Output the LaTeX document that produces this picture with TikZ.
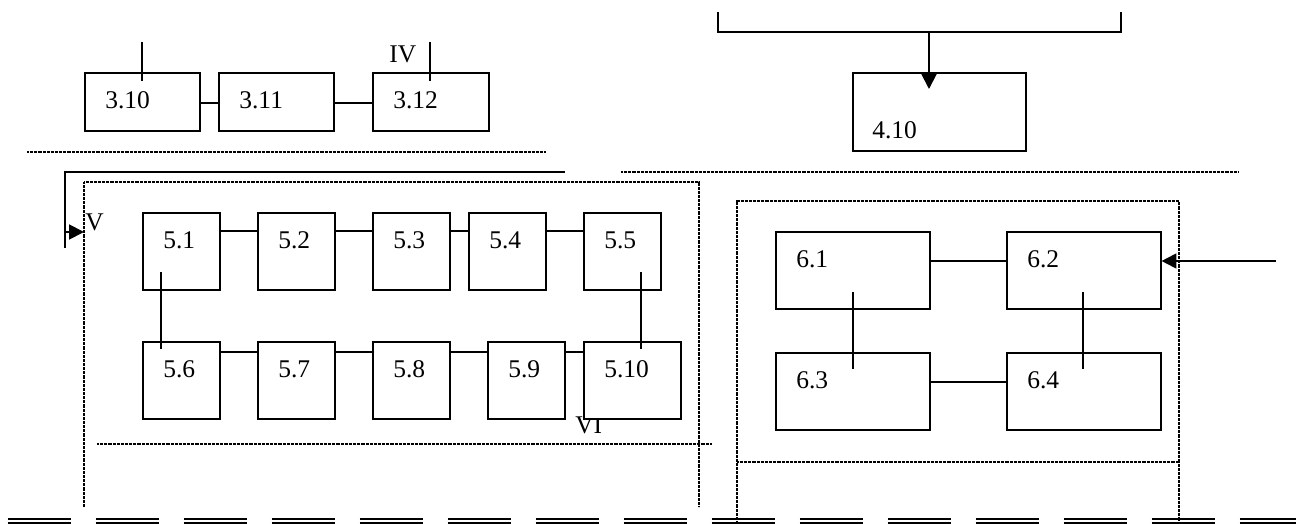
\documentclass[tikz,border=0pt]{standalone}
\usepackage{fontspec}
\setmainfont{Liberation Serif}
\usetikzlibrary{arrows.meta, positioning, calc}

\begin{document}
\begin{tikzpicture}[
    x=0.02cm, y=-0.02cm,
    box/.style={draw, line width=0.9pt, fill=white, inner sep=0pt, anchor=north west},
    unit/.style={box, minimum width=2.3cm, minimum height=1.16cm},
    sq/.style={box, minimum width=1.54cm, minimum height=1.54cm},
    wide/.style={box, minimum width=3.08cm, minimum height=1.54cm},
    num/.style={font=\fontsize{14.5}{16}\selectfont, inner sep=0pt, anchor=base west},
    link/.style={line width=0.7pt},
    arrow/.style={-{Triangle[length=8.5pt, width=8.5pt]}, line width=1.1pt},
    zone/.style={line width=0.6pt, dash pattern=on 0.4pt off 0.35pt},
    rail/.style={line width=1.3pt}
]
  \useasboundingbox (0,0) rectangle (1296,524);

  % section labels drawn first, boxes sit on top
  \node[num] (lIV) at (389,62) {IV};
  \node[num] (lV) at (85,230) {V};
  \node[num] (lVI) at (575,433) {VI};

  % block 3
  \node[unit] (b310) at (84,72) {};
  \node[unit] (b311) at (218,72) {};
  \node[unit, minimum width=2.32cm] (b312) at (372,72) {};
  \foreach \n/\lab in {310/3.10, 311/3.11, 312/3.12}
    \node[num] (t\n) at ([shift={(21,36)}]b\n.north west) {\lab};
  \draw[link] ([shift={(0,31)}]b310.north east) -- ([shift={(0,31)}]b311.north west);
  \draw[link] ([shift={(0,31)}]b311.north east) -- ([shift={(0,31)}]b312.north west);
  \coordinate (in310) at (142,42);
  \coordinate (in312) at (430,42);
  \draw[link] (in310) -- ([shift={(58,9)}]b310.north west);
  \draw[link] (in312) -- ([shift={(58,9)}]b312.north west);
  \draw[zone] (27,152) -- (545,152);

  % block 4
  \node[box, minimum width=3.46cm, minimum height=1.56cm] (b410) at (852,72) {};
  \node[num] (t410) at ([shift={(20,66)}]b410.north west) {4.10};
  \coordinate (brl) at (718,12);
  \coordinate (brr) at (1121,12);
  \coordinate (brmid) at (929,32);
  \draw[link, line width=0.9pt] (brl) |- (brmid) -| (brr);
  \draw[arrow] (brmid) -- ([shift={(77,17)}]b410.north west);
  \draw[zone] (621,172) -- (1238,172);

  % block 5
  \draw[zone] (84,507) -- (84,182) -- (699,182) -- (699,507);
  \draw[zone] (97,444) -- (712,444);
  \coordinate (vtop) at (565,172);
  \coordinate (vend) at (65,248);
  \coordinate (vtail) at (65,232);
  \coordinate (vhead) at (84,232);
  \draw[link, line width=0.9pt] (vtop) -| (vend);
  \draw[arrow] (vtail) -- (vhead);
  \foreach \n/\lab/\x/\y in {51/5.1/142/212, 52/5.2/257/212, 53/5.3/372/212, 54/5.4/468/212,
      55/5.5/583/212, 56/5.6/142/341, 57/5.7/257/341, 58/5.8/372/341, 59/5.9/487/341}{
    \node[sq] (b\n) at (\x,\y) {};
    \node[num] (t\n) at ([shift={(21,36)}]b\n.north west) {\lab};
  }
  \node[sq, minimum width=1.94cm] (b510) at (583,341) {};
  \node[num] (t510) at ([shift={(21,36)}]b510.north west) {5.10};
  \foreach \a/\b in {51/52, 52/53, 53/54, 54/55}
    \draw[link] ([shift={(0,19)}]b\a.north east) -- ([shift={(0,19)}]b\b.north west);
  \foreach \a/\b in {56/57, 57/58, 58/59, 59/510}
    \draw[link] ([shift={(0,11)}]b\a.north east) -- ([shift={(0,11)}]b\b.north west);
  \draw[link] ([shift={(19,60)}]b51.north west) -- ([shift={(19,8)}]b56.north west);
  \draw[link] ([shift={(58,60)}]b55.north west) -- ([shift={(58,8)}]b510.north west);

  % block 6
  \draw[zone] (737,524) -- (737,201) -- (1179,201) -- (1179,524);
  \draw[zone] (737,462) -- (1179,462);
  \foreach \n/\lab/\x/\y in {61/6.1/775/231, 62/6.2/1006/231, 63/6.3/775/352, 64/6.4/1006/352}{
    \node[wide] (b\n) at (\x,\y) {};
    \node[num] (t\n) at ([shift={(21,36)}]b\n.north west) {\lab};
  }
  \draw[link] ([shift={(0,30)}]b61.north east) -- ([shift={(0,30)}]b62.north west);
  \draw[link] ([shift={(0,30)}]b63.north east) -- ([shift={(0,30)}]b64.north west);
  \draw[link] ([shift={(78,61)}]b61.north west) -- ([shift={(78,17)}]b63.north west);
  \draw[link] ([shift={(77,61)}]b62.north west) -- ([shift={(77,17)}]b64.north west);
  \coordinate (in62) at (1276,261);
  \draw[arrow] (in62) -- ([shift={(0,30)}]b62.north east);

  % double broken rail along the bottom
  \foreach \i in {0,...,14}{
    \draw[rail] (7.5+88*\i,519) -- (71+88*\i,519);
    \draw[link, line width=0.6pt] (7.5+88*\i,523) -- (71+88*\i,523);
  }
\end{tikzpicture}
\end{document}
